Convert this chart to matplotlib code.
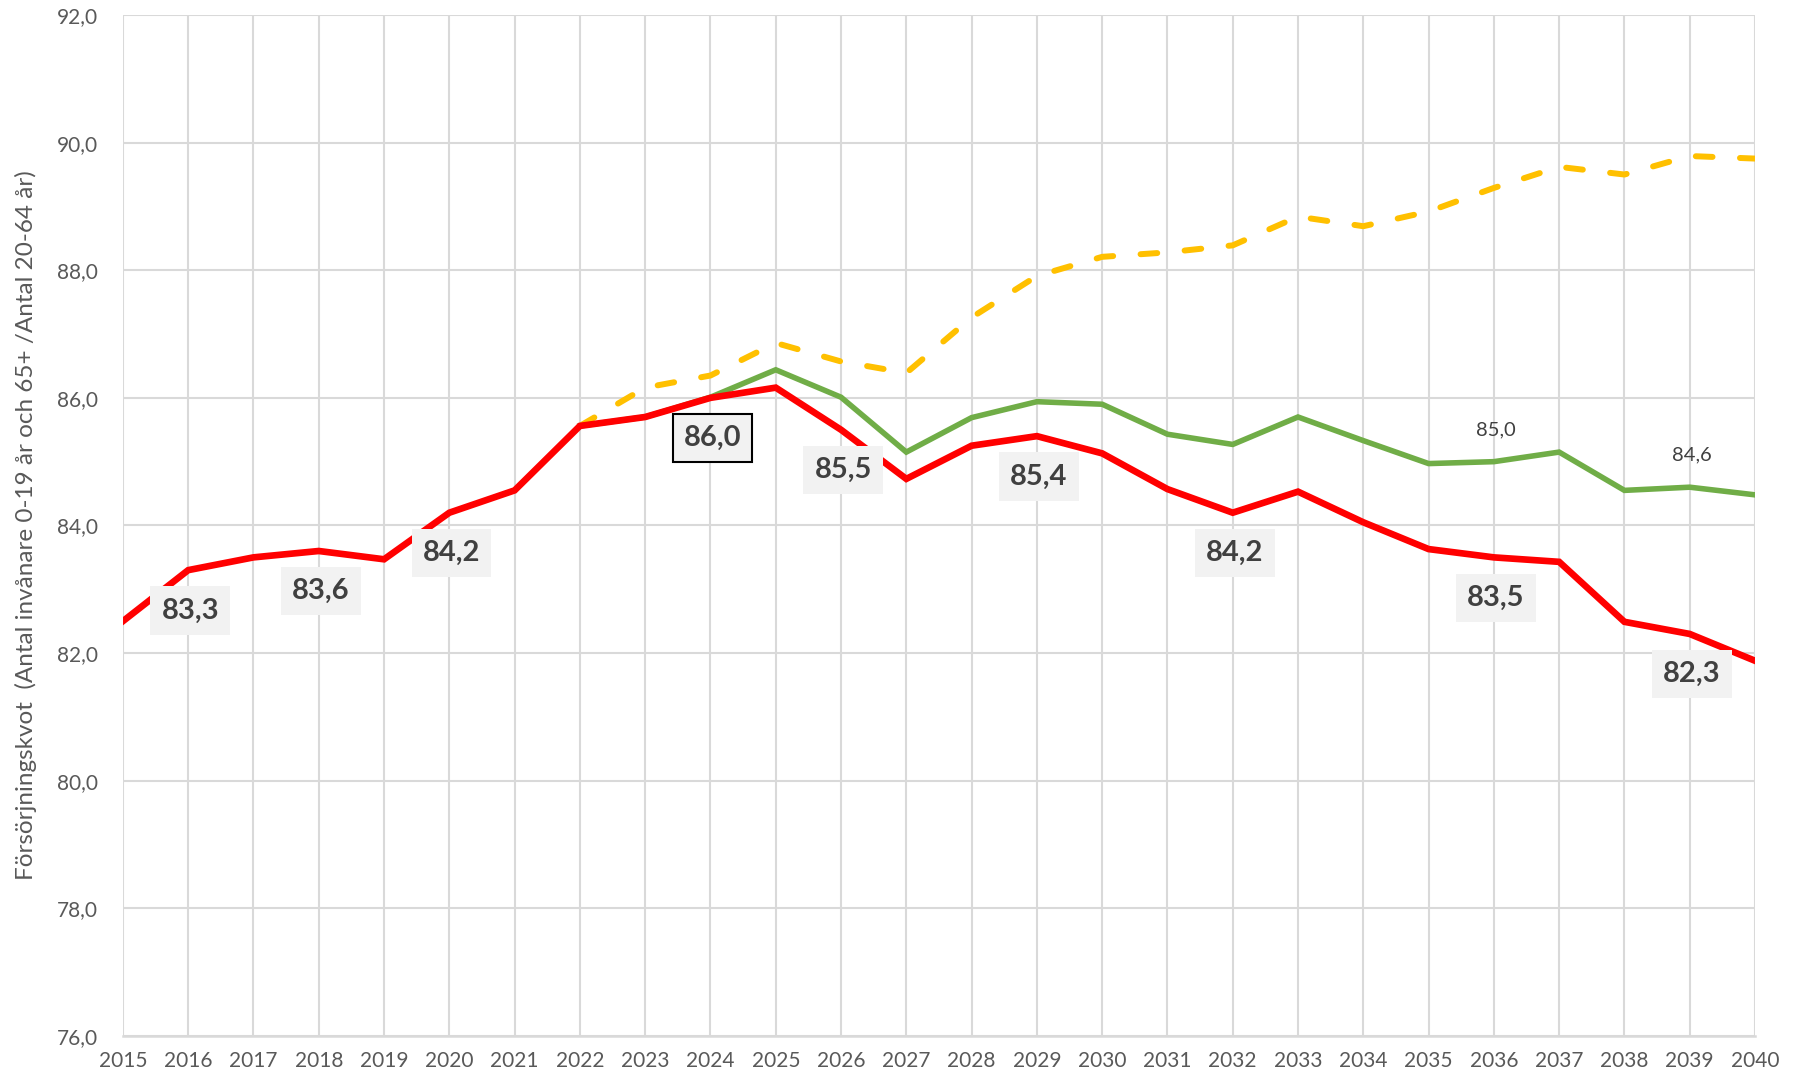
import matplotlib
matplotlib.use('Agg')
import matplotlib.pyplot as plt
from matplotlib import font_manager
from matplotlib.ticker import FuncFormatter, MultipleLocator

# data
years = list(range(2015, 2041))
red = [82.5, 83.3, 83.5, 83.6, 83.47, 84.2, 84.55, 85.56, 85.7, 86.0, 86.16, 85.5, 84.73,
       85.25, 85.4, 85.13, 84.57, 84.2, 84.53, 84.05, 83.63, 83.5, 83.43, 82.49, 82.3, 81.88]

prog_years = list(range(2022, 2041))
green = [85.56, 85.7, 86.01, 86.44, 86.01, 85.15, 85.69, 85.94, 85.9, 85.43, 85.27, 85.7,
         85.33, 84.97, 85.0, 85.15, 84.55, 84.6, 84.48]
yellow = [85.56, 86.16, 86.35, 86.86, 86.57, 86.39, 87.26, 87.91, 88.21, 88.28, 88.39, 88.84,
          88.69, 88.92, 89.29, 89.62, 89.5, 89.79, 89.75]

red_label_years = [2016, 2018, 2020, 2024, 2026, 2029, 2032, 2036, 2039]
green_label_years = [2036, 2039]

# font
names = set(f.name for f in font_manager.fontManager.ttflist)
font = 'Lato' if 'Lato' in names else 'DejaVu Sans'
plt.rcParams['font.family'] = [font, 'DejaVu Sans']

fig = plt.figure(figsize=(18.05, 10.79), dpi=100)
ax = fig.add_axes([0.0681, 0.0399, 0.9723 - 0.0681, 0.9861 - 0.0399])

ax.plot(prog_years, yellow, color='#FFC000', lw=4.3, linestyle=(0, (2.8, 4.6)),
        dash_capstyle='round', zorder=3)
ax.plot(prog_years, green, color='#70AD47', lw=4.0, zorder=4, solid_joinstyle='miter')
ax.plot(years, red, color='#FF0000', lw=4.8, zorder=5, solid_joinstyle='miter')


def fmt(v):
    return f"{v:.1f}".replace('.', ',')


for y in red_label_years:
    v = red[years.index(y)]
    edge = 'black' if y == 2024 else 'none'
    ax.annotate(fmt(v), (y, v), xytext=(1.5, -29), textcoords='offset points',
                ha='center', va='center', fontsize=21, fontweight='bold', color='#404040',
                bbox=dict(boxstyle='square,pad=0.38', fc='#F2F2F2', ec=edge, lw=1.5),
                zorder=7)

for y in green_label_years:
    v = green[prog_years.index(y)]
    ax.annotate(fmt(v), (y, v), xytext=(1.5, 23), textcoords='offset points',
                ha='center', va='center', fontsize=14.5, color='#404040', zorder=7)

ax.set_xlim(2015, 2040)
ax.set_ylim(76, 92)
ax.set_xticks(years)
ax.yaxis.set_major_locator(MultipleLocator(2))
ax.yaxis.set_major_formatter(FuncFormatter(lambda v, p: fmt(v)))

ax.grid(True, color='#D9D9D9', lw=1.5, zorder=0)
ax.set_axisbelow(True)
for s in ['top', 'right', 'left']:
    ax.spines[s].set_visible(False)
ax.spines['bottom'].set_color('#D9D9D9')
ax.spines['bottom'].set_linewidth(1.8)

ax.tick_params(axis='both', length=0, labelsize=15, labelcolor='#595959')
ax.tick_params(axis='y', pad=18)
ax.tick_params(axis='x', pad=11)

ax.set_ylabel('Försörjningskvot  (Antal invånare 0-19 år och 65+ /Antal 20-64 år)',
              fontsize=17.5, color='#595959', labelpad=14)

plt.savefig('out.png', dpi=100)
